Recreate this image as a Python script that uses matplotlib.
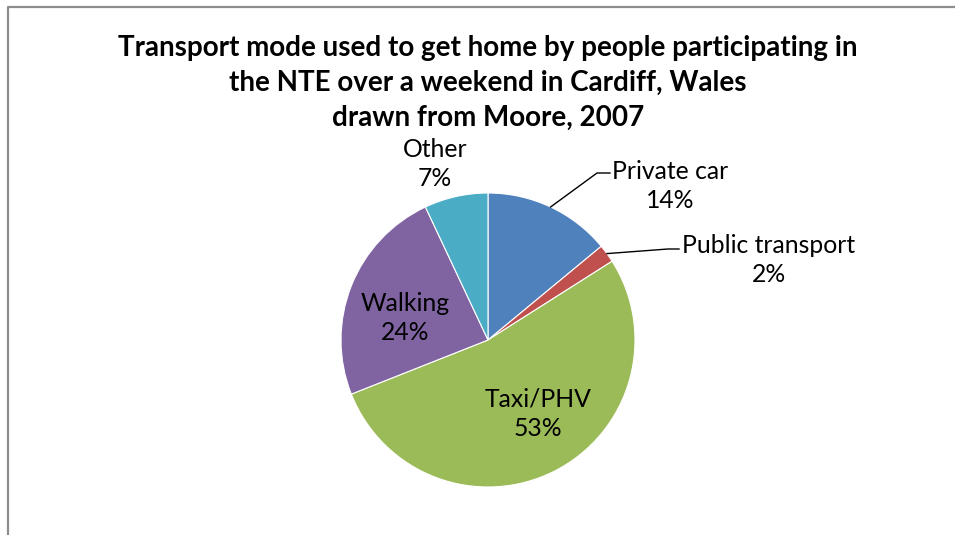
import numpy as np
import matplotlib
matplotlib.use("Agg")
import matplotlib.pyplot as plt

categories = ["Private car", "Public transport", "Taxi/PHV", "Walking", "Other"]
shares = [14, 2, 53, 24, 7]
colors = ["#4F81BD", "#C0504D", "#9BBB59", "#8064A2", "#4BACC6"]
title_lines = [
    "Transport mode used to get home by people participating in",
    "the NTE over a weekend in Cardiff, Wales",
    "drawn from Moore, 2007",
]

W, H = 955, 535
plt.rcParams["font.family"] = ["Lato", "DejaVu Sans"]

fig = plt.figure(figsize=(W / 100, H / 100), dpi=100)
ax = fig.add_axes([0, 0, 1, 1])

# chart area frame (left and top edges visible)
ax.plot([7.5, 7.5, W + 5], [-5, H - 6.5, H - 6.5], color="#8c8c8c", lw=1.6, solid_capstyle="butt")

cx, cy, r = 488, H - 340, 147
wedges, _ = ax.pie(shares, colors=colors, startangle=90, counterclock=False,
                   center=(cx, cy), radius=r, frame=True,
                   wedgeprops=dict(edgecolor="white", linewidth=0.8))
ax.set_xlim(0, W)
ax.set_ylim(0, H)
ax.set_aspect("equal")
ax.axis("off")

# title
for i, line in enumerate(title_lines):
    ax.text(488, H - 48 - 35 * i, line, ha="center", va="center",
            fontsize=20, fontweight="bold", color="black")

# data labels
label_pos = {
    "Private car": (670, H - 186),
    "Public transport": (769, H - 260),
    "Taxi/PHV": (538, H - 414),
    "Walking": (405, H - 318),
    "Other": (435, H - 164),
}
for cat, val in zip(categories, shares):
    x, y = label_pos[cat]
    ax.text(x, y, f"{cat}\n{val}%", ha="center", va="center",
            fontsize=17.8, linespacing=1.33, color="black")

# leader lines for the two small slices on the right
cum = np.cumsum([0] + shares[:-1])
leaders = {"Private car": [(597, H - 173), (610, H - 173)],
           "Public transport": [(668, H - 249), (679, H - 249)]}
for cat, pts in leaders.items():
    i = categories.index(cat)
    mid = np.deg2rad(90 - 3.6 * (cum[i] + shares[i] / 2))
    x0, y0 = cx + r * np.cos(mid), cy + r * np.sin(mid)
    xs = [x0] + [p[0] for p in pts]
    ys = [y0] + [p[1] for p in pts]
    ax.plot(xs, ys, color="black", lw=1.0)

fig.savefig("out.png", dpi=100)
